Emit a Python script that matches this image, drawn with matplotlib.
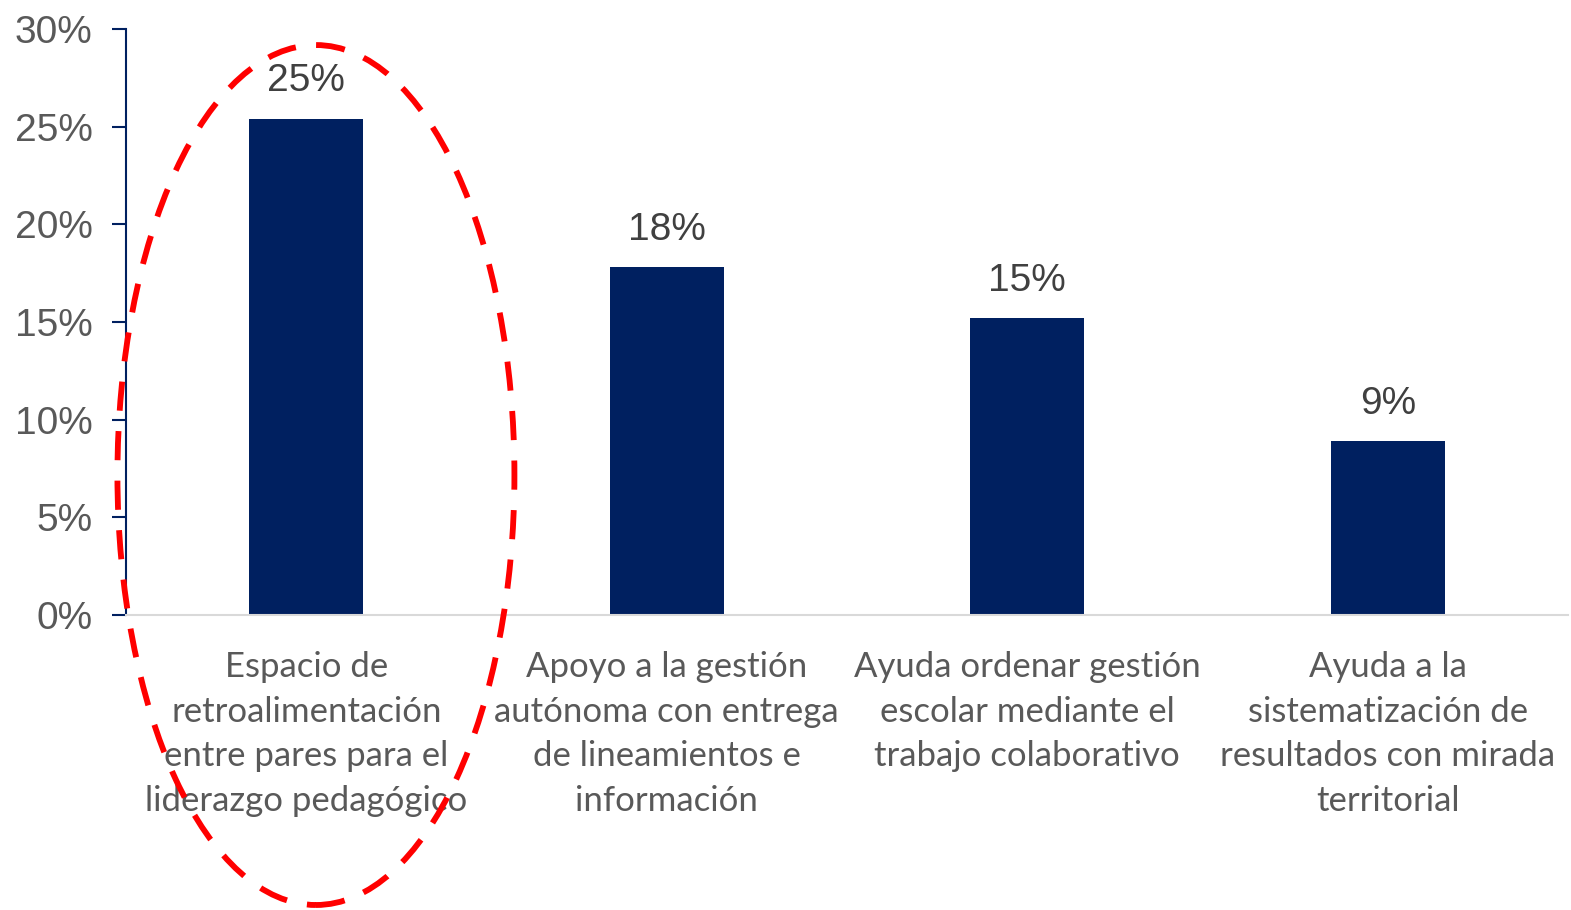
import matplotlib.pyplot as plt
from matplotlib.patches import Ellipse

# data
categorias = ['Espacio de\nretroalimentación\nentre pares para el\nliderazgo pedagógico',
              'Apoyo a la gestión\nautónoma con entrega\nde lineamientos e\ninformación',
              'Ayuda ordenar gestión\nescolar mediante el\ntrabajo colaborativo',
              'Ayuda a la\nsistematización de\nresultados con mirada\nterritorial']
valores = [25.4, 17.8, 15.2, 8.9]
yticks = [0, 5, 10, 15, 20, 25, 30]

navy = '#002060'

fig = plt.figure(figsize=(15.71, 9.10), dpi=100)
ax = fig.add_axes([0.0802, 0.3242, 0.918, 0.6439])

x = range(len(valores))
bars = ax.bar(x, valores, width=0.316, color=navy)
ax.bar_label(bars, labels=['%d%%' % round(v) for v in valores], padding=14,
             fontsize=28, color='#404040', family='Liberation Sans')

ax.set_xlim(-0.5, 3.5)
ax.set_ylim(0, 30)
ax.set_yticks(yticks)
ax.set_yticklabels(['%d%%' % t for t in yticks], fontsize=28, color='#595959',
                   family='Liberation Sans')
ax.set_xticks(list(x))
ax.set_xticklabels(categorias, fontsize=25, color='#595959', family='Lato',
                   linespacing=1.48)
ax.tick_params(axis='x', length=0, pad=26)
ax.tick_params(axis='y', length=10, width=1.5, color=navy, pad=14)

for s in ['top', 'right']:
    ax.spines[s].set_visible(False)
ax.spines['left'].set_color(navy)
ax.spines['left'].set_linewidth(1.5)
ax.spines['bottom'].set_color('#d9d9d9')
ax.spines['bottom'].set_linewidth(1.5)

# red dashed ellipse highlighting the first bar
elipse = Ellipse((0.2011, 0.478), 0.2527, 0.945, transform=fig.transFigure,
                 fill=False, edgecolor='red', linewidth=4.2,
                 linestyle=(0, (5, 3.5)), clip_on=False)
fig.patches.append(elipse)

fig.savefig('out.png', dpi=100)
